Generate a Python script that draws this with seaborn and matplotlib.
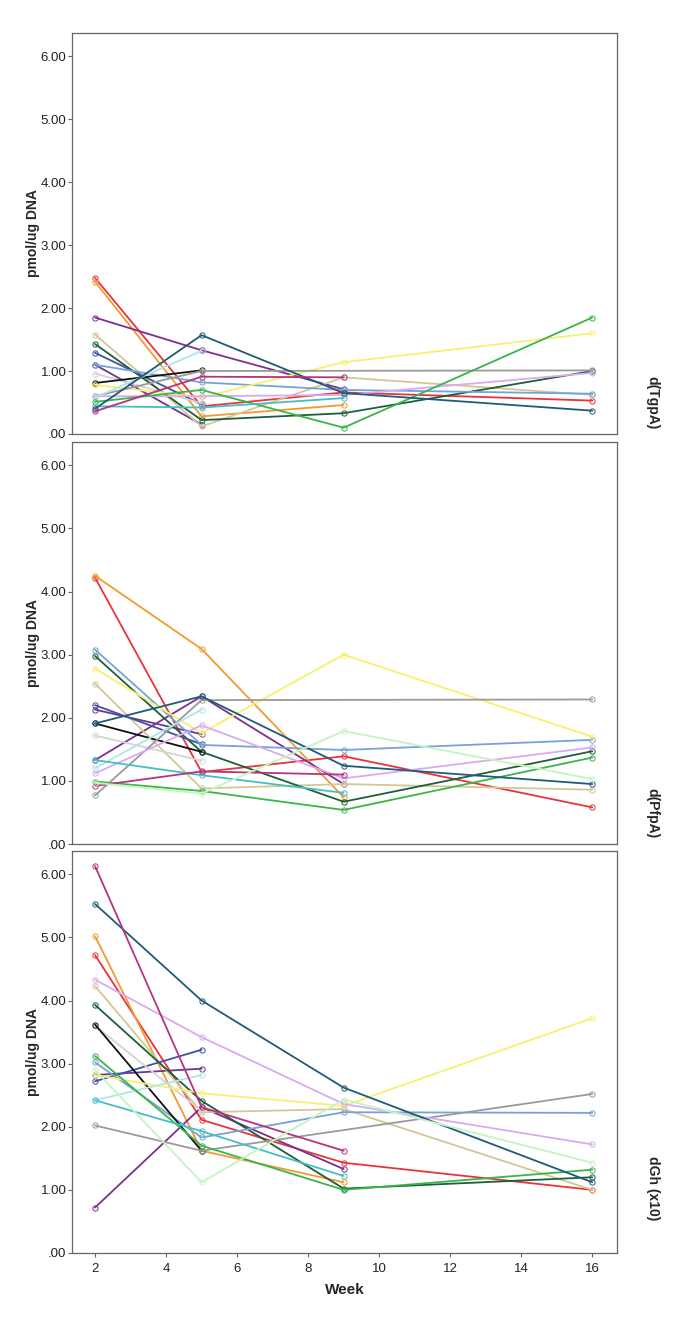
import numpy as np
import matplotlib
matplotlib.use('Agg')
import matplotlib.pyplot as plt
import seaborn as sns

nan = np.nan

# sampling weeks
weeks = [2, 5, 9, 16]

# one colour per subject (SPSS-like default palette)
subjects = ['red', 'orange', 'purple', 'violet', 'khaki', 'darkgreen', 'blue',
            'steelblue', 'lightgray', 'black', 'yellow', 'gray', 'lavender',
            'palecyan', 'green', 'turquoise', 'teal', 'magenta', 'palegreen']
colors = ['#e8333a', '#f39a2e', '#7e2f8e', '#6e3592', '#d3c794', '#1d5e3b', '#3f51a3',
          '#74a3d6', '#d4d4d4', '#111111', '#f7f06e', '#9a9a9a', '#d9aaf2',
          '#b0e4e8', '#3bb54a', '#45bfc4', '#1f5b78', '#b5347f', '#c4f5c0']

# d(TgpA) values per subject, weeks 2 / 5 / 9 / 16
tgpa = [
    [2.48, 0.44, 0.66, 0.53],
    [2.42, 0.28, 0.46, nan],
    [1.85, 1.33, 0.71, nan],
    [1.10, 0.15, nan, nan],
    [1.58, 0.12, 0.90, 0.62],
    [1.43, 0.22, 0.33, 1.00],
    [1.29, 0.47, nan, nan],
    [1.10, 0.82, 0.70, 0.64],
    [0.96, 0.49, nan, nan],
    [0.81, 1.01, nan, nan],
    [0.78, 0.58, 1.14, 1.60],
    [0.60, 1.00, nan, 1.01],
    [0.60, 0.60, 0.62, 0.97],
    [0.58, 1.32, nan, nan],
    [0.51, 0.70, 0.10, 1.85],
    [0.44, 0.42, 0.57, nan],
    [0.40, 1.57, 0.65, 0.37],
    [0.36, 0.91, 0.90, nan],
    [nan, nan, nan, nan],
]

# d(PfpA)
pfpa = [
    [4.22, 1.14, 1.39, 0.58],
    [4.25, 3.09, 0.74, nan],
    [1.33, 2.34, 0.95, nan],
    [2.13, 1.74, nan, nan],
    [2.54, 0.88, 0.95, 0.86],
    [2.98, 1.46, 0.67, 1.47],
    [2.20, 1.58, nan, nan],
    [3.08, 1.57, 1.49, 1.65],
    [1.72, 1.32, nan, nan],
    [1.91, 1.46, nan, nan],
    [2.78, 1.76, 3.00, 1.70],
    [0.77, 2.28, nan, 2.29],
    [1.12, 1.88, 1.04, 1.53],
    [1.20, 2.13, nan, nan],
    [0.99, 0.84, 0.54, 1.37],
    [1.33, 1.09, 0.81, nan],
    [1.91, 2.34, 1.24, 0.95],
    [0.92, 1.15, 1.10, nan],
    [0.97, 0.80, 1.79, 1.03],
]

# dGh (x10)
dgh = [
    [4.72, 2.11, 1.43, 1.00],
    [5.02, 1.62, 1.12, nan],
    [0.72, 2.31, 1.33, nan],
    [2.82, 2.92, nan, nan],
    [4.23, 2.23, 2.28, 1.00],
    [3.93, 2.41, 1.02, 1.20],
    [2.72, 3.22, nan, nan],
    [3.02, 1.83, 2.23, 2.22],
    [3.60, 2.25, nan, nan],
    [3.62, 1.62, nan, nan],
    [2.82, 2.53, 2.33, 3.72],
    [2.02, 1.62, nan, 2.52],
    [4.33, 3.42, 2.36, 1.72],
    [2.42, 2.82, nan, nan],
    [3.12, 1.70, 1.00, 1.32],
    [2.42, 1.93, 1.22, nan],
    [5.53, 4.00, 2.62, 1.12],
    [6.13, 2.31, 1.62, nan],
    [2.90, 1.12, 2.43, 1.43],
]

panels = [(tgpa, 'd(TgpA)'), (pfpa, 'd(PfpA)'), (dgh, 'dGh (x10)')]
yticks = [0, 1, 2, 3, 4, 5, 6]
ytick_labels = ['.00', '1.00', '2.00', '3.00', '4.00', '5.00', '6.00']

sns.set_style('ticks')
plt.rcParams['font.family'] = ['Liberation Sans', 'DejaVu Sans']

fig = plt.figure(figsize=(6.85, 13.3), dpi=100)

# axes boxes [left, bottom, width, height] in figure fraction
boxes = [
    [0.105, 0.6737, 0.796, 0.3015],
    [0.105, 0.3654, 0.796, 0.3023],
    [0.105, 0.0579, 0.796, 0.3023],
]
side_label_y = [0.697, 0.389, 0.107]

for i, (table, name) in enumerate(panels):
    ax = fig.add_axes(boxes[i])
    for subj, col, vals in zip(subjects, colors, table):
        sns.lineplot(x=weeks, y=vals, color=col, marker='o', ms=3.8,
                     mec=col, mfc='none', mew=0.7, lw=1.3, ax=ax)

    ax.set_xlim(1.35, 16.7)
    ax.set_ylim(0, 6.37)
    ax.set_yticks(yticks)
    ax.set_yticklabels(ytick_labels, fontsize=9.5, color='#222222')
    ax.set_xticks(range(2, 17, 2))
    ax.set_ylabel('pmol/ug DNA', fontsize=10, fontweight='bold', labelpad=0)
    ax.set_xlabel('')
    for sp in ax.spines.values():
        sp.set_visible(True)
        sp.set_color('#666666')
        sp.set_linewidth(0.9)
    ax.tick_params(axis='both', length=3, width=0.8, color='#666666', pad=1)
    if i < 2:
        ax.tick_params(axis='x', bottom=False, labelbottom=False)
    else:
        ax.tick_params(axis='x', labelsize=9.5, labelcolor='#222222', pad=4)
        ax.set_xlabel('Week', fontsize=11, fontweight='bold', labelpad=6)

    fig.text(0.953, side_label_y[i], name, rotation=270, ha='center', va='center',
             fontsize=10, fontweight='bold')

fig.savefig('out.png', dpi=100)
